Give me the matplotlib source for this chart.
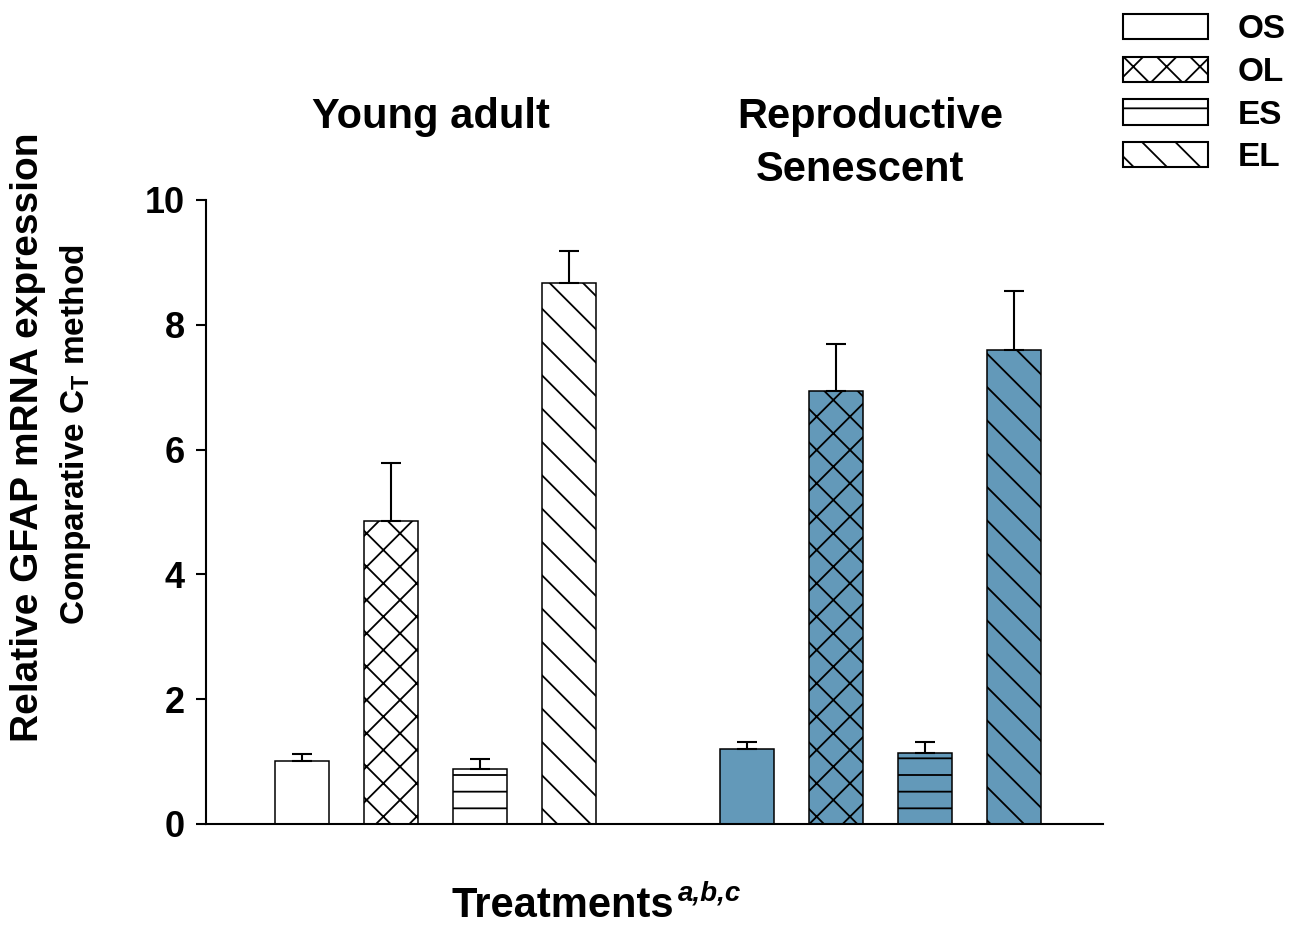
import numpy as np
import matplotlib
matplotlib.use('Agg')
import matplotlib.pyplot as plt
from matplotlib.patches import Patch

plt.rcParams['font.family'] = ['Liberation Sans', 'DejaVu Sans']
plt.rcParams['font.weight'] = 'bold'
plt.rcParams['mathtext.fontset'] = 'custom'
plt.rcParams['mathtext.rm'] = 'Liberation Sans:bold'
plt.rcParams['mathtext.bf'] = 'Liberation Sans:bold'
plt.rcParams['mathtext.it'] = 'Liberation Sans:bold:italic'
plt.rcParams['hatch.linewidth'] = 1.3

# GFAP expression per treatment, two age groups
treatments = ['OS', 'OL', 'ES', 'EL']
hatches = ['', 'x', '-', '\\']
young_mean = [1.01, 4.86, 0.88, 8.67]
young_sem = [0.11, 0.93, 0.16, 0.51]
senescent_mean = [1.20, 6.94, 1.14, 7.60]
senescent_sem = [0.11, 0.75, 0.17, 0.94]

blue = '#6399b9'

fig = plt.figure(figsize=(13.03, 9.30), dpi=100)
ax = fig.add_axes([0.158, 0.114, 0.6885, 0.671])

x_young = np.arange(4)
x_sen = np.arange(4) + 5
width = 0.6

for xs, means, sems, face in [(x_young, young_mean, young_sem, 'white'),
                              (x_sen, senescent_mean, senescent_sem, blue)]:
    for xi, m, s, h in zip(xs, means, sems, hatches):
        ax.bar(xi, m, width=width, color=face, edgecolor='black',
               linewidth=1.1, hatch=h, zorder=2)
        ax.errorbar(xi, m, yerr=[[0], [s]], fmt='none', ecolor='black',
                    elinewidth=1.5, capsize=7, capthick=1.5, zorder=3)

ax.set_xlim(-1.08, 9.0)
ax.set_ylim(0, 10)
ax.set_yticks([0, 2, 4, 6, 8, 10])
ax.set_xticks([])
ax.spines['top'].set_visible(False)
ax.spines['right'].set_visible(False)
ax.spines['left'].set_linewidth(1.5)
ax.spines['bottom'].set_linewidth(1.5)
ax.tick_params(axis='y', direction='out', length=7, width=1.5,
               labelsize=26, pad=8)
for lab in ax.get_yticklabels():
    lab.set_fontweight('bold')

# group titles
xform = ax.get_xaxis_transform()
ax.text(1.5 - 0.05, 1.115, 'Young adult', transform=xform,
        ha='center', va='baseline', fontsize=30, fontweight='bold')
ax.text(6.5 - 0.12, 1.115, 'Reproductive', transform=xform,
        ha='center', va='baseline', fontsize=30, fontweight='bold')
ax.text(6.5 - 0.23, 1.03, 'Senescent', transform=xform,
        ha='center', va='baseline', fontsize=30, fontweight='bold')

# axis labels
fig.text(0.0215, 1 - 437 / 930, 'Relative GFAP mRNA expression', rotation=90,
         ha='center', va='center', fontsize=28, fontweight='bold')
fig.text(0.058, 1 - 435 / 930, r'Comparative C$_{\mathrm{T}}$ method',
         rotation=90, ha='center', va='center', fontsize=24, fontweight='bold')
xlab = fig.text(452 / 1303, 1 - 917 / 930, 'Treatments',
                ha='left', va='baseline', fontsize=30, fontweight='bold')
ax.annotate('a,b,c', xy=(1, 1), xycoords=xlab, xytext=(2, 4),
            textcoords='offset points', ha='left', va='top',
            fontsize=20, fontweight='bold', fontstyle='italic')

# legend
handles = [Patch(facecolor='white', edgecolor='black', linewidth=1.5, hatch=h)
           for h in hatches]
fig.legend(handles, treatments, loc='upper left',
           bbox_to_anchor=(1123 / 1303, 1 - 14 / 930),
           bbox_transform=fig.transFigure, frameon=False, borderpad=0,
           borderaxespad=0, handlelength=2.55, handleheight=0.8,
           handletextpad=0.9, labelspacing=0.34,
           prop={'size': 24, 'weight': 'bold'})

fig.savefig('out.png', dpi=100)
